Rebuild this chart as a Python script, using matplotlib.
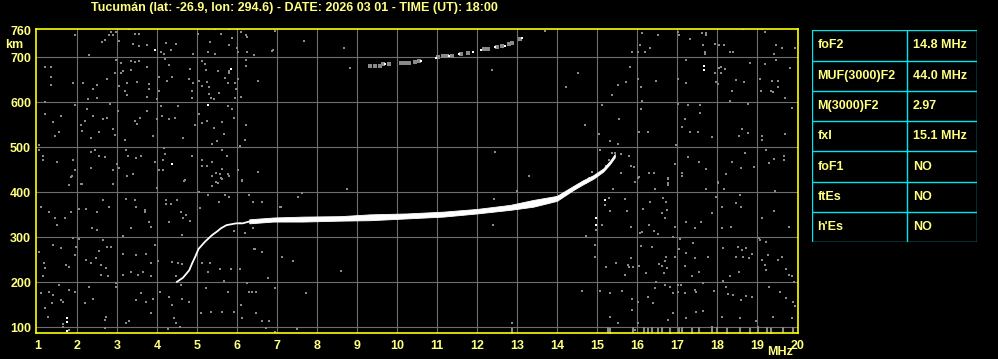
#!/usr/bin/env python3
"""Ionogram quick-look: Tucuman, 2026-03-01 18:00 UT."""

import matplotlib

matplotlib.use("Agg")
import matplotlib.pyplot as plt

TITLE = "Tucumán (lat: -26.9, lon: 294.6) - DATE: 2026 03 01 - TIME (UT): 18:00"

x_ticks = list(range(1, 21))
y_ticks = [100, 200, 300, 400, 500, 600, 700, 760]
x_grid = list(range(2, 20))
y_grid = [100, 200, 300, 400, 500, 600, 700]

# scaled parameters table
param_names = ["foF2", "MUF(3000)F2", "M(3000)F2", "fxI", "foF1", "ftEs", "h'Es"]
param_values = ["14.8 MHz", "44.0 MHz", "2.97", "15.1 MHz", "NO", "NO", "NO"]

# F2 trace (O mode): thick part given as top / bottom virtual height
band_f = [6.30, 6.90, 7.65, 8.57, 9.32, 10.24, 11.15, 11.99, 12.82, 13.40, 13.99, 14.40, 14.65, 14.90, 15.15, 15.32, 15.44]
band_top = [340, 344, 346, 347, 351, 353, 357, 363, 372, 383, 392, 414, 427, 438, 453, 470, 485]
band_bot = [331, 335, 335, 337, 338, 342, 346, 353, 361, 368, 381, 405, 418, 430, 446, 463, 478]

# lower (F1 ledge) part of the trace
low_f = [4.49, 4.64, 4.80, 4.87, 4.95, 5.03, 5.12, 5.19, 5.37, 5.51, 5.59, 5.73, 5.97, 6.13, 6.30]
low_h = [201, 210, 227, 242, 257, 274, 283, 290, 305, 314, 320, 327, 331, 331, 335]

# second hop echo around 700 km
echo_f = [9.33, 9.45, 9.57, 9.65, 9.80, 10.10, 10.20, 10.30, 10.45, 10.55, 11.02, 11.15, 11.25, 11.38,
          11.60, 11.78, 12.18, 12.28, 12.50, 12.62, 12.80, 12.88, 13.08]
echo_h = [681, 681, 681, 684, 686, 687, 687, 687, 690, 692, 700, 702, 703, 703,
          708, 710, 718, 719, 722, 725, 729, 731, 740]
echo_white_f = [9.70, 10.60, 10.97, 11.30, 11.55, 11.90, 12.10, 12.45, 12.70, 13.12]
echo_white_h = [686, 692, 699, 702, 707, 711, 717, 722, 726, 742]

# isolated strong echoes
spot_f = [3.94, 5.84, 5.28, 4.38, 1.73, 1.73, 1.73, 17.68, 17.68, 14.98, 14.98, 15.19]
spot_h = [717, 675, 594, 463, 112, 120, 92, 672, 680, 328, 342, 383]

# background interference (gray pixels)
noise_upper_left = [
    (1.94, 749), (2.61, 734), (2.69, 739), (2.80, 749), (2.84, 757), (2.90, 749), (2.97, 757), (3.03, 736),
    (3.28, 762), (3.44, 751), (3.54, 752), (3.38, 730), (3.53, 725), (3.74, 727), (4.09, 712), (4.18, 708),
    (4.23, 732), (4.34, 716), (4.48, 730), (4.89, 708), (5.03, 751), (5.33, 734), (5.28, 712), (5.44, 762),
    (5.44, 708), (5.60, 752), (5.79, 762), (5.79, 727), (5.88, 743), (5.99, 762), (6.00, 721), (6.03, 712),
    (6.09, 757), (6.23, 749), (6.24, 712), (6.43, 704), (6.89, 717), (2.28, 706), (1.19, 678), (1.34, 678),
    (1.34, 656), (1.34, 639), (1.89, 642), (2.13, 642), (2.40, 630), (2.49, 639), (2.74, 652), (2.97, 693),
    (2.93, 665), (3.03, 637), (3.08, 687), (3.10, 666), (3.15, 670), (3.24, 642), (3.18, 625), (3.23, 616),
    (3.34, 691), (3.34, 671), (3.45, 689), (3.49, 646), (3.55, 691), (3.74, 678), (3.78, 640), (3.78, 629),
    (3.74, 612), (3.98, 607), (4.03, 656), (4.04, 625), (4.19, 697), (4.29, 682), (4.24, 648), (4.38, 656),
    (4.83, 673), (4.79, 652), (4.89, 642), (4.88, 625), (4.87, 609), (5.11, 692), (5.05, 648), (5.13, 637),
    (5.19, 684), (5.23, 671), (5.25, 646), (5.29, 633), (5.30, 618), (5.34, 609), (5.43, 607), (5.53, 670),
    (5.54, 620), (5.70, 654), (5.76, 642), (5.80, 669), (5.80, 664), (5.94, 642), (5.97, 630), (5.95, 609),
    (6.03, 652), (6.09, 611), (6.23, 693), (6.23, 680), (6.53, 648), (2.27, 607), (2.49, 610),
    (1.19, 600), (1.19, 575), (1.40, 556), (1.59, 570), (1.55, 535), (1.44, 526), (1.95, 594), (2.09, 549),
    (2.12, 536), (2.20, 558), (2.24, 585), (2.38, 570), (2.34, 520), (2.55, 535), (2.63, 562), (2.74, 566),
    (2.82, 597), (2.90, 541), (2.94, 528), (3.01, 580), (3.18, 517), (3.44, 558), (3.49, 552), (3.57, 565),
    (3.74, 580), (3.89, 526), (3.99, 562), (4.09, 592), (4.12, 570), (4.29, 562), (4.45, 566), (4.53, 592),
    (4.64, 521), (4.94, 549), (5.04, 575), (5.13, 555), (5.24, 558), (5.43, 543), (5.61, 556), (5.66, 530),
    (5.88, 586), (5.91, 565), (5.76, 592), (6.23, 549), (6.19, 517), (6.07, 502), (5.38, 508), (5.50, 513),
    (1.03, 505), (1.05, 495), (1.15, 481), (1.15, 472), (1.49, 468), (1.86, 436), (1.79, 416), (1.88, 472),
    (1.95, 450), (2.11, 418), (2.34, 489), (2.34, 455), (2.45, 493), (2.53, 481), (2.69, 478), (2.88, 450),
    (2.90, 418), (2.98, 463), (3.03, 455), (3.21, 495), (3.26, 481), (3.24, 436), (3.38, 440), (3.47, 477),
    (3.58, 481), (3.94, 468), (4.03, 450), (4.13, 450), (4.18, 499), (4.19, 485), (4.13, 472), (4.68, 425),
    (4.88, 481), (5.13, 472), (5.13, 459), (5.24, 459), (5.38, 468), (5.38, 436), (5.47, 444), (5.51, 421),
    (5.58, 440), (5.63, 493), (5.63, 451), (5.74, 481), (5.78, 440), (6.01, 450), (6.13, 425), (6.53, 445),
    (5.61, 429), (5.38, 414),
]
noise_lower_left = [
    (1.84, 435), (2.09, 418), (2.90, 418), (3.24, 436), (3.98, 409), (4.69, 427), (5.59, 431), (5.47, 422),
    (5.38, 413), (5.80, 436), (6.13, 427), (6.30, 394), (3.22, 385), (3.45, 383), (3.47, 368), (3.69, 361),
    (3.68, 356), (3.80, 335), (3.85, 324), (3.34, 321), (3.15, 303), (2.78, 368), (2.63, 383), (2.22, 364),
    (2.48, 356), (2.49, 316), (2.37, 320), (1.84, 357), (2.03, 364), (1.70, 342), (1.48, 327), (1.43, 342),
    (1.30, 356), (1.08, 368), (1.88, 299), (2.05, 296), (2.63, 294), (2.73, 279), (2.83, 279), (2.55, 270),
    (3.13, 262), (3.47, 261), (3.72, 262), (3.93, 283), (4.01, 247), (4.38, 246), (4.53, 242), (4.47, 213),
    (4.63, 240), (5.13, 242), (5.32, 242), (5.26, 224), (5.58, 229), (5.68, 203), (5.85, 230), (6.07, 229),
    (6.24, 199), (6.63, 267), (6.78, 209), (6.43, 274), (6.07, 331), (6.19, 309), (5.93, 313), (4.63, 305),
    (4.65, 342), (4.30, 335), (4.23, 373), (4.34, 373), (4.22, 384), (4.49, 384), (4.59, 357), (4.72, 350),
    (4.83, 336), (5.08, 366), (5.05, 401), (5.27, 393), (5.54, 379), (5.70, 394), (5.79, 389), (1.05, 268),
    (1.16, 242), (1.20, 231), (1.13, 213), (1.38, 283), (1.59, 276), (1.72, 238), (1.80, 235), (1.97, 279),
    (1.95, 261), (2.22, 250), (2.33, 242), (2.47, 253), (2.59, 239), (2.59, 216), (2.72, 231), (2.76, 213),
    (2.97, 198), (3.13, 216), (3.34, 224), (3.51, 216), (3.63, 224), (3.84, 242), (3.84, 213), (1.09, 176),
    (1.30, 179), (1.38, 172), (1.37, 153), (1.59, 161), (1.63, 157), (1.20, 142), (1.26, 124), (1.53, 194),
    (1.80, 183), (1.93, 178), (2.20, 153), (2.28, 190), (2.38, 164), (2.68, 116), (2.72, 124), (2.68, 98),
    (2.97, 190), (3.22, 109), (3.30, 113), (3.47, 161), (3.59, 176), (3.72, 157), (3.84, 131), (3.88, 164),
    (4.07, 179), (4.30, 168), (4.38, 150), (4.43, 120), (4.47, 109), (4.57, 101), (4.26, 96), (4.61, 164),
    (4.80, 157), (5.09, 131), (5.34, 135), (5.63, 135), (5.93, 135), (6.09, 150), (6.30, 179), (6.47, 179),
    (6.48, 131), (6.63, 113), (6.72, 98), (6.80, 113), (6.13, 120), (5.76, 179), (5.23, 187), (4.59, 194),
    (1.63, 100), (1.63, 108), (1.80, 94),
]
noise_middle = [
    (7.73, 177), (7.49, 96), (6.94, 90), (14.63, 181), (12.88, 109), (7.68, 737), (8.68, 721),
    (12.44, 490), (13.30, 437), (12.40, 327), (13.00, 403), (6.40, 378), (6.63, 378), (7.53, 390),
    (7.09, 368), (12.42, 385), (6.39, 320), (8.74, 407), (8.59, 226), (7.13, 257), (7.39, 247),
    (6.63, 268), (6.44, 274), (6.36, 179), (6.94, 187), (7.61, 399), (7.07, 368), (12.38, 672),
    (8.82, 677), (13.69, 759), (6.24, 746), (6.88, 715), (6.94, 759), (12.88, 96),
    (14.73, 421), (14.80, 432), (14.88, 445), (15.23, 459), (15.30, 472), (15.38, 487),
]
noise_upper_right = [
    (16.13, 755), (16.08, 728), (15.88, 712), (16.03, 712), (16.19, 712), (16.33, 721), (16.53, 749),
    (17.03, 757), (17.05, 749), (17.33, 740), (17.63, 755), (17.73, 755), (17.73, 750), (17.69, 712),
    (17.69, 707), (17.65, 727), (17.94, 730), (18.05, 727), (18.18, 727), (18.32, 712), (18.40, 712),
    (18.65, 762), (19.13, 762), (19.19, 757), (19.48, 727), (19.42, 708), (19.63, 721), (19.94, 721),
    (17.23, 693), (17.03, 652), (17.23, 642), (18.05, 676), (18.10, 678), (18.19, 675), (18.09, 665),
    (17.94, 665), (17.98, 646), (18.03, 640), (18.48, 650), (18.68, 644), (18.38, 625), (18.83, 687),
    (19.08, 652), (19.09, 624), (19.19, 684), (19.38, 648), (19.53, 648), (19.34, 625), (19.40, 622),
    (19.53, 633), (19.48, 693), (19.83, 676), (19.69, 609), (14.53, 665), (14.23, 633), (15.38, 616),
    (15.53, 639), (15.73, 646), (15.83, 678), (16.03, 652), (16.09, 633), (16.13, 603), (16.48, 648),
    (17.03, 597), (17.28, 594), (17.58, 595), (17.58, 577), (17.19, 562), (17.13, 545), (17.33, 535),
    (17.53, 535), (17.88, 522), (18.32, 603), (18.78, 597), (18.63, 540), (18.54, 524), (18.78, 532),
    (19.13, 525), (19.13, 517), (19.70, 530), (19.88, 588), (19.23, 494), (19.43, 474), (19.68, 481),
    (19.67, 472), (19.29, 466), (18.93, 457), (18.69, 487), (18.38, 468), (18.59, 455), (18.23, 440),
    (18.01, 420), (17.73, 451), (17.55, 468), (17.28, 478), (17.13, 444), (16.94, 464), (16.78, 430),
    (16.78, 421), (16.43, 442), (16.29, 444), (16.03, 431), (16.09, 584), (16.26, 535), (16.04, 535),
    (15.55, 562), (15.13, 594), (15.05, 530), (14.69, 549), (15.33, 515), (15.53, 507), (15.59, 485),
    (15.79, 481), (15.84, 459), (15.93, 457), (15.59, 442), (15.44, 487), (15.07, 495), (16.98, 504),
]
noise_lower_right = [
    (15.19, 372), (15.30, 387), (15.32, 359), (15.13, 327), (14.98, 316), (14.73, 303), (14.94, 283),
    (14.94, 257), (15.40, 407), (15.69, 385), (15.75, 359), (15.84, 324), (15.95, 422), (16.04, 433),
    (16.07, 309), (16.13, 311), (16.15, 364), (16.33, 378), (16.44, 407), (16.30, 327), (16.43, 314),
    (16.51, 307), (16.65, 388), (16.73, 379), (16.75, 361), (16.61, 353), (16.69, 342), (16.94, 324),
    (16.90, 301), (16.78, 431), (16.78, 416), (17.13, 436), (17.23, 335), (17.44, 321), (17.59, 333),
    (17.73, 407), (17.88, 353), (17.98, 390), (18.13, 367), (18.13, 320), (18.34, 324), (18.48, 377),
    (18.57, 394), (18.59, 368), (18.02, 422), (18.18, 407), (19.44, 404), (19.43, 359), (19.13, 342),
    (19.79, 324), (19.05, 299), (19.23, 290), (16.09, 281), (16.38, 279), (15.23, 233), (15.48, 242),
    (15.69, 216), (15.78, 238), (15.84, 253), (15.80, 235), (15.89, 235), (16.05, 237), (16.23, 220),
    (16.55, 240), (16.63, 237), (16.69, 247), (16.75, 231), (16.67, 220), (16.73, 257), (16.94, 257),
    (17.19, 237), (17.23, 265), (17.40, 287), (17.44, 253), (17.55, 222), (17.78, 257), (17.05, 274),
    (17.07, 296), (17.36, 213), (17.09, 194), (16.48, 201), (16.44, 187), (16.69, 194), (16.82, 190),
    (16.90, 176), (17.03, 194), (17.03, 179), (17.19, 176), (17.44, 183), (17.48, 179), (17.65, 136),
    (17.48, 135), (17.22, 121), (17.65, 198), (17.92, 181), (18.15, 203), (18.23, 190), (18.27, 173),
    (18.40, 172), (18.59, 161), (18.73, 170), (18.88, 168), (18.98, 113), (19.13, 250), (19.19, 239),
    (19.23, 227), (19.27, 261), (19.53, 250), (19.63, 257), (19.73, 230), (19.86, 213), (19.79, 216),
    (19.92, 201), (18.53, 279), (18.61, 272), (18.73, 276), (18.88, 264), (18.47, 257), (18.65, 257),
    (18.80, 253), (18.54, 224), (18.15, 277), (18.32, 213), (19.07, 294), (19.30, 190), (19.58, 178),
    (19.73, 166), (19.90, 157), (19.94, 148), (19.88, 121), (19.40, 124), (19.03, 101), (18.57, 121),
    (18.11, 124), (17.88, 101), (14.63, 181), (15.08, 181), (15.33, 176), (15.63, 181), (15.88, 163),
    (15.88, 139), (16.03, 109), (16.78, 116), (16.90, 131), (16.28, 168), (15.32, 124), (15.53, 109),
    (15.94, 94), (15.32, 94), (16.03, 157), (16.40, 153),
]
# dense interference along the bottom edge
noise_floor_f = [12.88, 15.28, 15.33, 15.90, 16.17, 16.28, 16.36, 16.53, 16.63, 16.82, 17.05, 17.11,
                 17.38, 17.54, 17.86, 17.99, 18.24, 18.57, 18.82, 19.03, 19.24, 19.34, 19.64, 19.90]
noise_floor_h = [92, 94, 92, 93, 95, 91, 93, 92, 94, 92, 95, 93,
                 92, 94, 93, 95, 92, 94, 92, 93, 95, 92, 94, 93]

BG = "black"
YELLOW = "#ffff00"
TEXT = "#ffff80"
GRAY = "#8a8a8a"
GRID = "#6e6e6e"
CYAN = "#00e5ee"
FONT = ["Liberation Sans Narrow", "Liberation Sans", "DejaVu Sans"]

W, H = 998, 359


def px_box(x0, y0, x1, y1):
    """Axes rectangle from pixel corners (top-left origin)."""
    return [x0 / W, 1 - y1 / H, (x1 - x0) / W, (y1 - y0) / H]


def draw_ionogram(fig):
    ax = fig.add_axes(px_box(36, 29.3, 798, 333.3))
    ax.set_facecolor(BG)
    ax.set_xlim(0.967, 20.02)
    ax.set_ylim(86.7, 762.2)

    for f in x_grid:
        ax.axvline(f, color=GRID, linewidth=0.8, zorder=1)
    for h in y_grid:
        ax.axhline(h, color=GRID, linewidth=0.8, zorder=1)

    noise = noise_upper_left + noise_lower_left + noise_middle + noise_upper_right + noise_lower_right
    nf = [p[0] for p in noise]
    nh = [p[1] for p in noise]
    ax.plot(nf, nh, "s", color=GRAY, markersize=1.9, markeredgewidth=0, antialiased=False, zorder=2)
    ax.plot(noise_floor_f, noise_floor_h, "|", color=GRAY, markersize=4, markeredgewidth=1.5,
            antialiased=False, zorder=2)

    ax.plot(echo_f, echo_h, "s", color=GRAY, markersize=2.2, markeredgewidth=0, antialiased=False, zorder=3)
    ax.plot(echo_white_f, echo_white_h, "s", color="white", markersize=2.0, markeredgewidth=0,
            antialiased=False, zorder=4)

    ax.fill_between(band_f, band_bot, band_top, color="white", linewidth=0.6, edgecolor="white", zorder=4)
    ax.plot(low_f, low_h, color="white", linewidth=1.3, zorder=4)
    ax.plot(spot_f, spot_h, "s", color="white", markersize=1.8, markeredgewidth=0, antialiased=False, zorder=4)

    for side in ax.spines.values():
        side.set_color(YELLOW)
        side.set_linewidth(1.2)
    ax.set_xticks(x_ticks)
    ax.set_yticks(y_ticks)
    ax.tick_params(length=0, colors=TEXT, labelsize=9)
    ax.tick_params(axis="x", pad=5)
    ax.tick_params(axis="y", pad=3.5)
    for lab in ax.get_xticklabels() + ax.get_yticklabels():
        lab.set_fontweight("bold")
        lab.set_family(FONT)
    return ax


def draw_table(fig):
    tab = fig.add_axes(px_box(812, 30.3, 977, 242.3))
    tab.set_facecolor(BG)
    n = len(param_names)
    tab.set_xlim(0, 1)
    tab.set_ylim(n, 0)
    tab.axis("off")
    split = 95 / 165
    for i in range(n + 1):
        tab.axhline(i, color=CYAN, linewidth=1.0)
    for xv in (0, split, 1):
        tab.axvline(xv, color=CYAN, linewidth=1.0)
    for i, (name, value) in enumerate(zip(param_names, param_values)):
        tab.text(0.033, i + 0.5, name, color=TEXT, fontsize=9, fontweight="bold", family=FONT,
                 ha="left", va="center")
        tab.text(split + 0.035, i + 0.5, value, color=TEXT, fontsize=9, fontweight="bold", family=FONT,
                 ha="left", va="center")


def main():
    fig = plt.figure(figsize=(W / 100, H / 100), dpi=100, facecolor=BG)
    draw_ionogram(fig)
    draw_table(fig)
    fig.text(294 / W, 1 - 7.5 / H, TITLE, color=TEXT, fontsize=9, fontweight="bold", family=FONT,
             ha="center", va="center")
    fig.text(14 / W, 1 - 45 / H, "km", color=TEXT, fontsize=9, fontweight="bold", family=FONT,
             ha="center", va="center")
    fig.text(780 / W, 1 - 352 / H, "MHz", color=TEXT, fontsize=9, fontweight="bold", family=FONT,
             ha="center", va="center")
    fig.savefig("out.png", dpi=100, facecolor=BG)
    plt.close(fig)


if __name__ == "__main__":
    main()
